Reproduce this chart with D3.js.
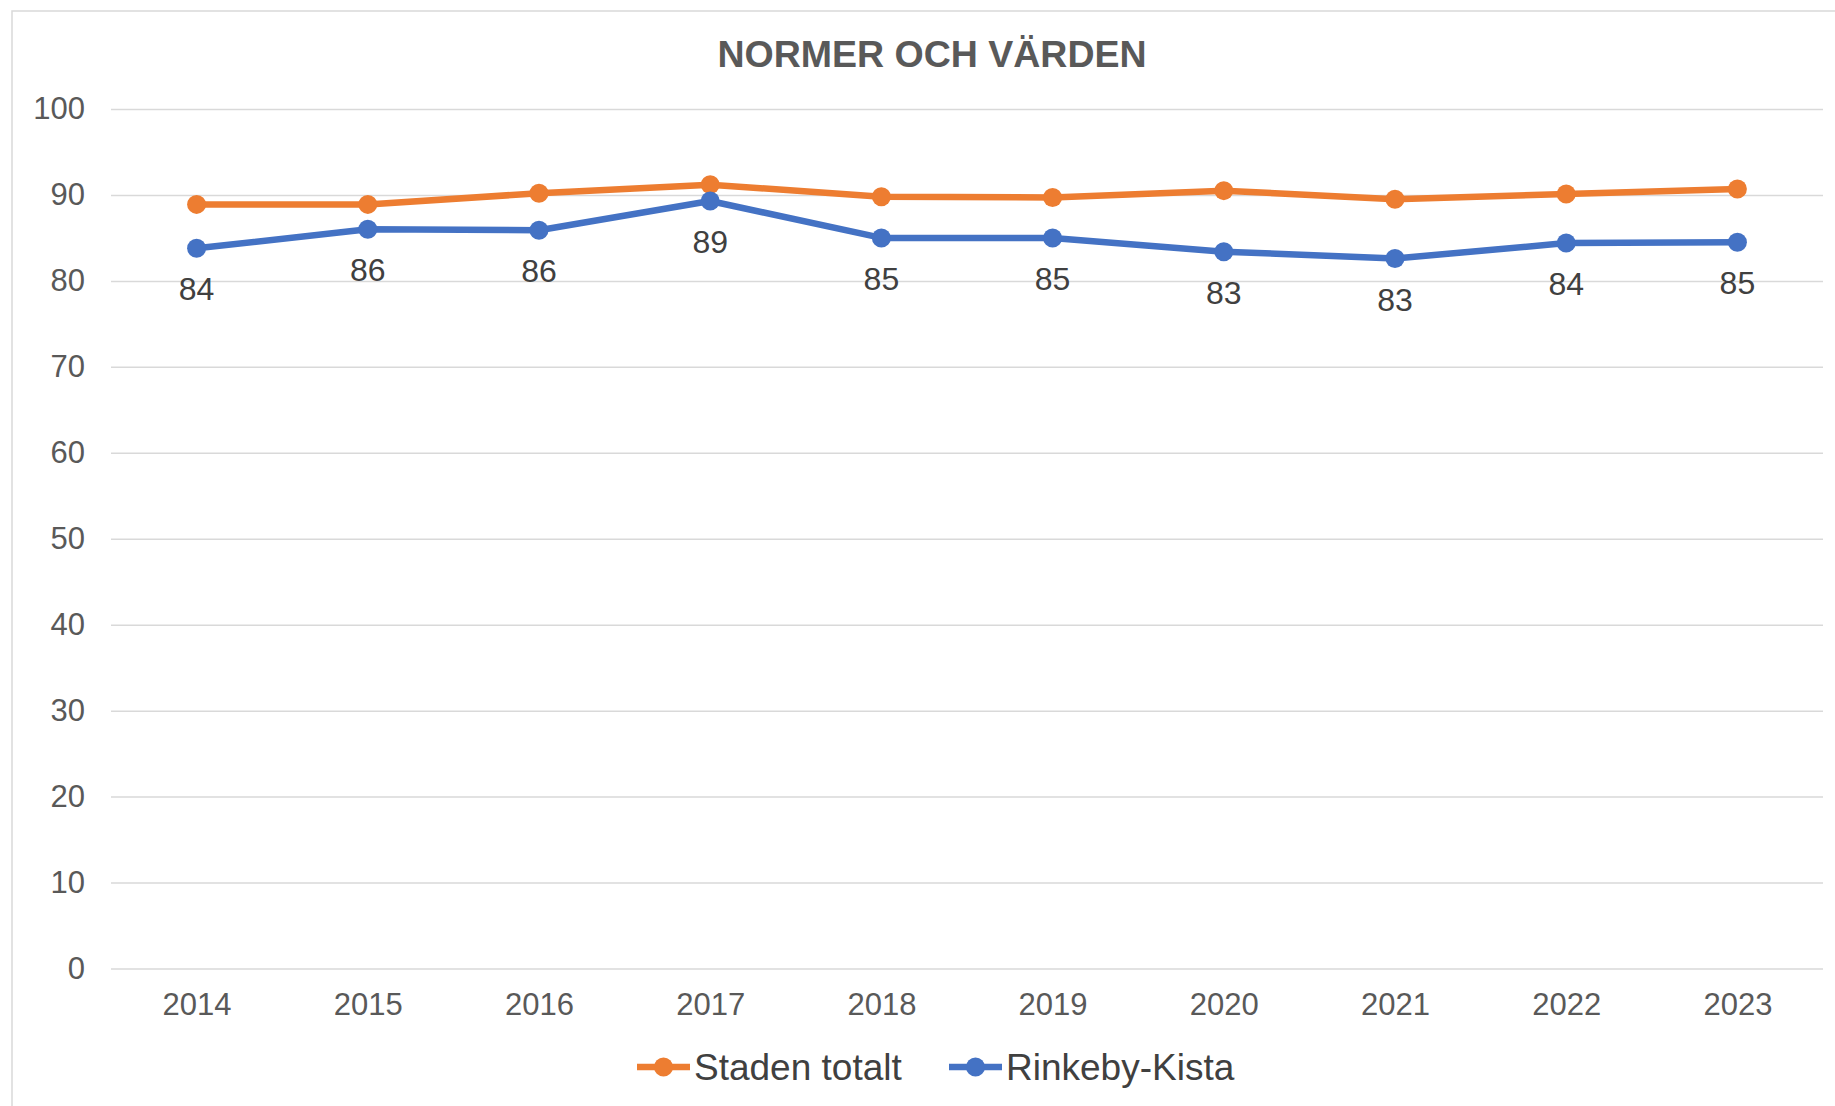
<!DOCTYPE html>
<html>
<head>
<meta charset="utf-8">
<script src="https://cdn.jsdelivr.net/npm/d3@7"></script>
<style>
html,body{margin:0;padding:0;background:#fff;overflow:hidden;}
svg{display:block;font-family:"Liberation Sans",Arial,sans-serif;}
</style>
</head>
<body>
<svg id="chart" width="1835" height="1106"></svg>
<script>
const title = "NORMER OCH VÄRDEN";
const years = ["2014","2015","2016","2017","2018","2019","2020","2021","2022","2023"];
const stadenTotalt = [88.9, 88.9, 90.2, 91.2, 89.8, 89.7, 90.5, 89.5, 90.1, 90.7];
const rinkebyKista = [83.8, 86.0, 85.9, 89.3, 85.0, 85.0, 83.4, 82.6, 84.4, 84.5];
const yTicks = [0,10,20,30,40,50,60,70,80,90,100];
const seriesNames = ["Staden totalt","Rinkeby-Kista"];
const seriesColors = ["#ED7D31","#4472C4"];

const svg = d3.select("#chart");
const plot = {left:111, right:1823, top:109, bottom:968.5};

// chart border
svg.append("rect").attr("x",12).attr("y",11).attr("width",1900).attr("height",1200)
  .attr("fill","#fff").attr("stroke","#d9d9d9").attr("stroke-width",1.5);

const x = d3.scalePoint().domain(years).range([plot.left, plot.right]).padding(0.5);
const y = d3.scaleLinear().domain([0,100]).range([plot.bottom, plot.top]);

// gridlines
const yAxis = d3.axisLeft(y).tickValues(yTicks).tickSize(-(plot.right-plot.left)).tickPadding(26);
const gy = svg.append("g").attr("transform",`translate(${plot.left},0)`).call(yAxis);
gy.select(".domain").remove();
gy.selectAll(".tick line").attr("stroke","#d9d9d9").attr("stroke-width",1.5);
gy.selectAll(".tick text").attr("fill","#595959").attr("font-size",31)
  .attr("font-family",'"Liberation Sans",Arial,sans-serif');

// x axis labels
const xAxis = d3.axisBottom(x).tickSize(0).tickPadding(24);
const gx = svg.append("g").attr("transform",`translate(0,${plot.bottom})`).call(xAxis);
gx.select(".domain").remove();
gx.selectAll(".tick text").attr("fill","#595959").attr("font-size",31)
  .attr("font-family",'"Liberation Sans",Arial,sans-serif');

// title
svg.append("text").attr("x",932).attr("y",67).attr("text-anchor","middle")
  .attr("font-size",37.5).attr("font-weight","bold").attr("fill","#595959").text(title);

const line = d3.line().x((d,i)=>x(years[i])).y(d=>y(d));
const allSeries = [stadenTotalt, rinkebyKista];
allSeries.forEach((vals,si)=>{
  svg.append("path").datum(vals).attr("d",line).attr("fill","none")
    .attr("stroke",seriesColors[si]).attr("stroke-width",6.5).attr("stroke-linejoin","round");
  svg.selectAll(null).data(vals).enter().append("circle")
    .attr("cx",(d,i)=>x(years[i])).attr("cy",d=>y(d)).attr("r",9.5).attr("fill",seriesColors[si]);
});

// data labels for Rinkeby-Kista
svg.selectAll(null).data(rinkebyKista).enter().append("text")
  .attr("x",(d,i)=>x(years[i])).attr("y",d=>y(d)+52)
  .attr("text-anchor","middle").attr("font-size",32).attr("fill","#404040")
  .text(d=>Math.round(d));

// legend
const legend = [{name:seriesNames[0],color:seriesColors[0],x0:637},{name:seriesNames[1],color:seriesColors[1],x0:949}];
const ly = 1067;
legend.forEach(l=>{
  svg.append("line").attr("x1",l.x0).attr("x2",l.x0+53).attr("y1",ly).attr("y2",ly)
    .attr("stroke",l.color).attr("stroke-width",6.5);
  svg.append("circle").attr("cx",l.x0+26.5).attr("cy",ly).attr("r",9.5).attr("fill",l.color);
  svg.append("text").attr("x",l.x0+57).attr("y",ly+13).attr("font-size",37)
    .attr("fill","#404040").text(l.name);
});
</script>
</body>
</html>
